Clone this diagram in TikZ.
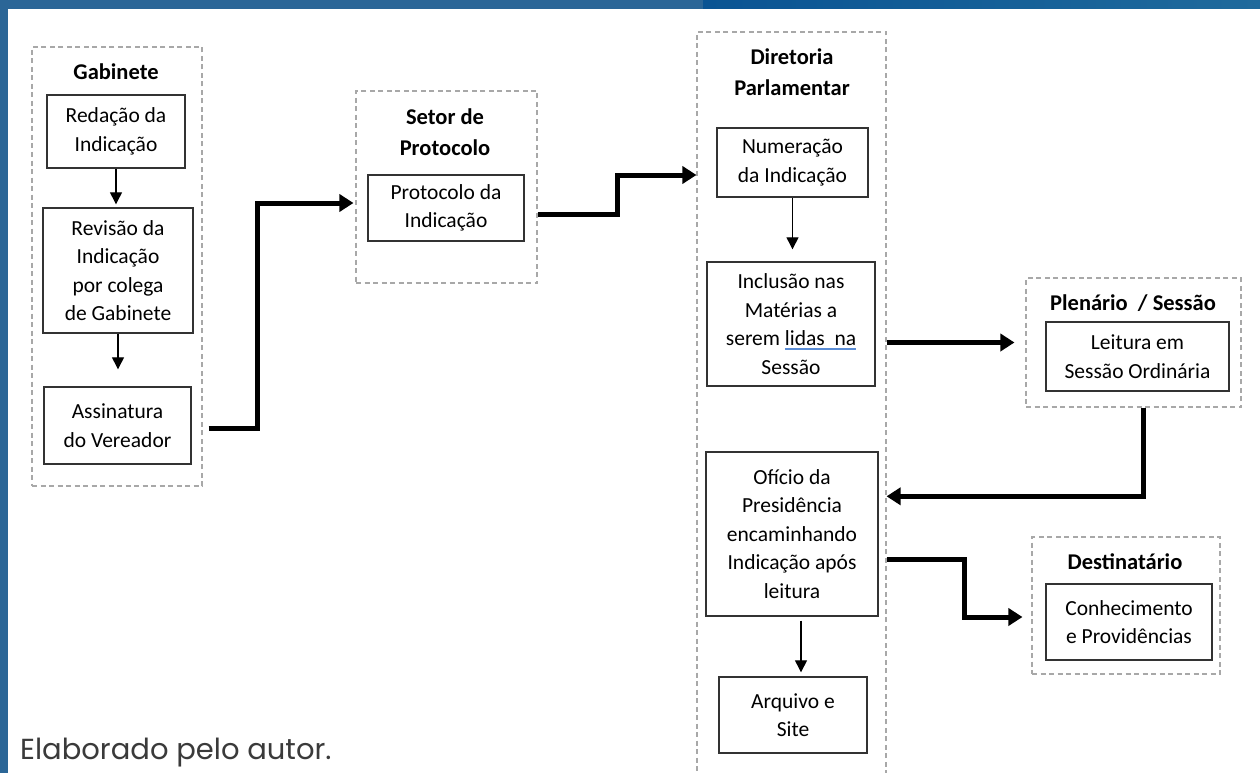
\documentclass[tikz,border=0pt]{standalone}
\usepackage{fontspec}
\setmainfont{Carlito}
\newfontfamily\poppins{Poppins}
\usepackage{xcolor}
\usetikzlibrary{arrows.meta, positioning, calc}
\definecolor{faixa}{HTML}{2B6697}
\definecolor{faixaesc}{HTML}{0A5493}
\definecolor{faixaclara}{HTML}{1F6A9C}
\definecolor{tracejado}{HTML}{A8A8A8}
\definecolor{legenda}{HTML}{3A3A3A}
\definecolor{sublinha}{HTML}{5B8DD6}
\newcommand\sublinhado[1]{\setbox0\hbox{#1}\rlap{\color{sublinha}\rule[-4pt]{\wd0}{1.6pt}}\box0}

\begin{document}
\begin{tikzpicture}[x=1pt, y=-1pt,
  grupo/.style={draw=tracejado, line width=1.1pt, dash pattern=on 5pt off 3.5pt, inner sep=0pt},
  etapa/.style={draw=black!80, line width=1.4pt, align=center, inner sep=0pt, font=\fontsize{21.5}{28.5}\selectfont},
  titulo/.style={align=center, inner sep=0pt, font=\fontsize{22.5}{30.5}\selectfont\bfseries},
  seta/.style={line width=1.3pt, -{Triangle[length=12pt, width=12pt]}},
  setagrossa/.style={line width=5pt, -{Triangle[length=14pt, width=17pt]}}]

\useasboundingbox (0,0) rectangle (1260,773);
\clip (0,0) rectangle (1260,773);
\fill[white] (0,0) rectangle (1260,773);
\fill[faixa] (0,0) rectangle (8,773);
\fill[faixa] (0,0) rectangle (703,9);
\shade[left color=faixaesc, right color=faixaclara] (703,0) rectangle (1260,9);

\node[grupo, minimum width=170pt, minimum height=439pt] (gab) at (117,266.5) {};
\node[grupo, minimum width=181pt, minimum height=192pt] (setor) at (446.5,187) {};
\node[grupo, minimum width=189pt, minimum height=758pt] (dir) at (791.5,411) {};
\node[grupo, minimum width=215pt, minimum height=129pt] (plen) at (1133.5,342.5) {};
\node[grupo, minimum width=188pt, minimum height=137pt] (dest) at (1126,605.5) {};

\node[titulo] (tgab) at (116,72) {Gabinete};
\node[titulo] (tsetor) at (445,132) {Setor de\\Protocolo};
\node[titulo] (tdir) at (792,72) {Diretoria\\Parlamentar};
\node[titulo] (tplen) at (1133,303) {Plenário\ \ / Sessão};
\node[titulo] (tdest) at (1125,562) {Destinatário};

\node[etapa, minimum width=138pt, minimum height=73pt] (redacao) at (116,131.5) {Redação da\\Indicação};
\node[etapa, minimum width=150pt, minimum height=125pt] (revisao) at (118,270.5) {Revisão da\\Indicação\\por colega\\de Gabinete};
\node[etapa, minimum width=147pt, minimum height=77pt] (assinatura) at (117.5,425.5) {Assinatura\\do Vereador};
\node[etapa, minimum width=156pt, minimum height=66pt] (protocolo) at (446,208) {Protocolo da\\Indicação};
\node[etapa, minimum width=151pt, minimum height=69pt] (numeracao) at (792.5,162.5) {Numeração\\da Indicação};
\node[etapa, minimum width=168pt, minimum height=124pt] (inclusao) at (791,324) {Inclusão nas\\Matérias a\\serem \sublinhado{lidas\ \ na}\\Sessão};
\node[etapa, minimum width=172pt, minimum height=164pt] (oficio) at (792,534) {Ofício da\\Presidência\\encaminhando\\Indicação após\\leitura};
\node[etapa, minimum width=148pt, minimum height=76pt] (arquivo) at (793,715) {Arquivo e\\Site};
\node[etapa, minimum width=183pt, minimum height=69pt] (leitura) at (1137.5,356.5) {Leitura em\\Sessão Ordinária};
\node[etapa, minimum width=166pt, minimum height=76pt] (conhecimento) at (1129,622) {Conhecimento\\e Providências};

\node[anchor=base west, inner sep=0pt, font=\poppins\fontsize{29}{31}\selectfont, text=legenda] (fonte) at (20,759) {Elaborado pelo autor.};

\draw[seta, shorten >=3pt] (redacao.south) -- (redacao.south |- revisao.north);
\draw[seta, shorten >=17pt] (revisao.south) -- (revisao.south |- assinatura.north);
\draw[setagrossa, shorten >=2pt] ($(assinatura.east)+(17,2.5)$) -- ++(49,0) |- ($(setor.west)+(0,16)$);
\draw[setagrossa] ($(protocolo.east -| setor.east)+(0,6)$) -- ++(80,0) |- ($(numeracao.west -| dir.west)+(0,12.5)$);
\draw[seta, shorten >=12pt] (numeracao.south) -- (numeracao.south |- inclusao.north);
\draw[setagrossa, shorten >=11pt] (dir.east |- plen.west) -- (plen.west);
\draw[setagrossa] ($(plen.south)+(10,0)$) |- ($(oficio.north -| dir.east)+(0,45)$);
\draw[setagrossa, shorten >=9pt] ($(oficio.east -| dir.east)+(0,25)$) -- ++(78,0) |- ($(dest.west)+(0,11.5)$);
\draw[seta] ($(oficio.south)+(9,4)$) -- ($(oficio.south |- arquivo.north)+(9,-4)$);
\end{tikzpicture}
\end{document}
